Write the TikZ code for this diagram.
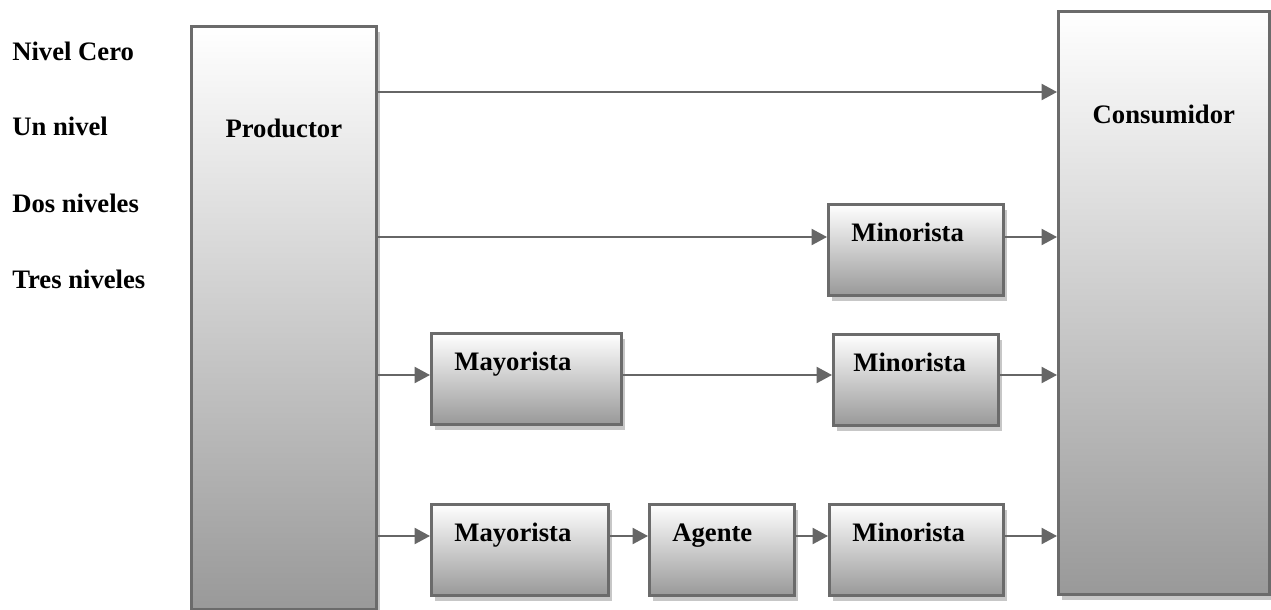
\documentclass[tikz,border=0pt]{standalone}
\usepackage{fontspec}
\setmainfont{Liberation Serif}
\usetikzlibrary{arrows.meta, shadows}

\tikzset{
  box/.style={draw=black!58, line width=2pt, top color=white, bottom color=black!40,
    inner sep=0pt, anchor=north west,
    drop shadow={fill=black!22, opacity=1, shadow xshift=2.5pt, shadow yshift=-4pt}},
  smallbox/.style={box, text height=27.75pt, text depth=40.5pt, inner xsep=17.25pt, align=left},
  bigbox/.style={box, align=center},
  flow/.style={draw=black!60, line width=1.5pt, -{Triangle[length=11.5pt, width=12pt]}},
  level/.style={anchor=base west, inner sep=0pt},
}

\begin{document}
\begin{tikzpicture}[x=0.75pt, y=-0.75pt, font=\fontsize{20}{24}\selectfont\bfseries]
  \useasboundingbox (0,0) rectangle (1271,610);

  % Level names on the left
  \node[level] (n0) at (12,61) {Nivel Cero};
  \node[level] (n1) at (12,135) {Un nivel};
  \node[level] (n2) at (12,212) {Dos niveles};
  \node[level] (n3) at (12,288) {Tres niveles};

  % Producer and consumer columns
  \node[bigbox, text width=138.75pt, text height=83.25pt, text depth=354pt] (prod) at (190,25) {Productor};
  \node[bigbox, text width=158.25pt, text height=84pt, text depth=353.25pt] (cons) at (1057,10) {Consumidor};

  % Intermediaries
  \node[smallbox, text width=96.75pt] (min1) at (827,203) {Minorista};
  \node[smallbox, text width=108pt] (may1) at (430,332) {Mayorista};
  \node[smallbox, text width=93.75pt, inner xsep=15pt] (min2) at (832,333) {Minorista};
  \node[smallbox, text width=98.25pt] (may2) at (430,503) {Mayorista};
  \node[smallbox, text width=74.25pt] (agen) at (648,503) {Agente};
  \node[smallbox, text width=96pt] (min3) at (828,503) {Minorista};

  % Heights of the four channels
  \coordinate (r0) at (0,92);
  \coordinate (r1) at (0,237);
  \coordinate (r2) at (0,375);
  \coordinate (r3) at (0,536);

  % Zero level
  \draw[flow] (prod.east |- r0) -- (cons.west |- r0);

  % One level
  \draw[flow] (prod.east |- r1) -- (min1.west |- r1);
  \draw[flow] (min1.east |- r1) -- (cons.west |- r1);

  % Two levels
  \draw[flow] (prod.east |- r2) -- (may1.west |- r2);
  \draw[flow] (may1.east |- r2) -- (min2.west |- r2);
  \draw[flow] (min2.east |- r2) -- (cons.west |- r2);

  % Three levels
  \draw[flow] (prod.east |- r3) -- (may2.west |- r3);
  \draw[flow] (may2.east |- r3) -- (agen.west |- r3);
  \draw[flow] (agen.east |- r3) -- (min3.west |- r3);
  \draw[flow] (min3.east |- r3) -- (cons.west |- r3);
\end{tikzpicture}
\end{document}
